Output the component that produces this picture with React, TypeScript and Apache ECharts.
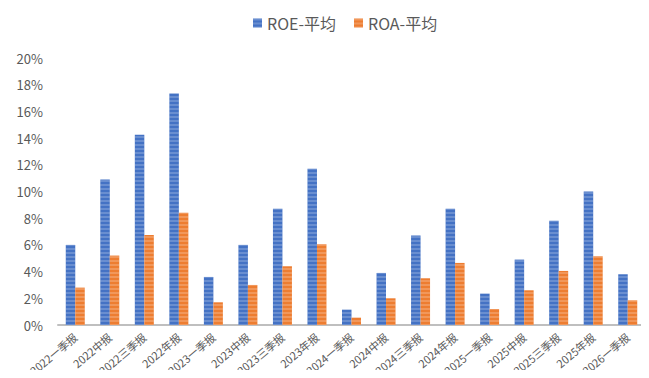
import React, { useEffect, useRef } from "react";
import * as echarts from "echarts";

const categories = [
  "2022一季报", "2022中报", "2022三季报", "2022年报",
  "2023一季报", "2023中报", "2023三季报", "2023年报",
  "2024一季报", "2024中报", "2024三季报", "2024年报",
  "2025一季报", "2025中报", "2025三季报", "2025年报",
  "2026一季报",
];
const roe = [6.0, 10.9, 14.25, 17.35, 3.6, 6.0, 8.7, 11.7, 1.15, 3.9, 6.7, 8.7, 2.35, 4.9, 7.8, 10.0, 3.8];
const roa = [2.8, 5.2, 6.75, 8.4, 1.7, 3.0, 4.4, 6.05, 0.55, 2.0, 3.5, 4.65, 1.2, 2.6, 4.05, 5.15, 1.85];
const seriesNames = ["ROE-平均", "ROA-平均"];

const FONT = "'Noto Sans CJK SC', 'Noto Sans', sans-serif";

export default function App() {
  const ref = useRef<HTMLDivElement>(null);
  useEffect(() => {
    if (!ref.current) return;
    const chart = echarts.init(ref.current, null, { renderer: "svg" });
    const decal = {
      symbol: "rect",
      symbolSize: 1,
      dashArrayX: [1, 0],
      dashArrayY: [2, 2],
      color: "rgba(255,255,255,0.2)",
    };
    chart.setOption({
      animation: false,
      legend: {
        top: 10,
        left: 248,
        itemWidth: 9,
        itemHeight: 9,
        itemGap: 18,
        icon: "rect",
        textStyle: { color: "#595959", fontSize: 16, fontFamily: FONT },
        data: seriesNames,
      },
      grid: {
        left: 58,
        right: 4,
        top: 58,
        bottom: 53,
        containLabel: false,
        outerBoundsMode: "none",
      },
      xAxis: {
        type: "category",
        data: categories,
        axisLine: { lineStyle: { color: "#BFBFBF", width: 2 } },
        axisTick: { show: false },
        axisLabel: {
          rotate: 40,
          color: "#595959",
          fontSize: 11,
          fontFamily: FONT,
          interval: 0,
          margin: 10,
        },
      },
      yAxis: {
        type: "value",
        min: 0,
        max: 20,
        interval: 2,
        splitLine: { show: false },
        axisLine: { show: false },
        axisTick: { show: false },
        axisLabel: {
          formatter: "{value}%",
          color: "#595959",
          fontSize: 13,
          fontFamily: FONT,
          margin: 15,
        },
      },
      series: [
        {
          name: seriesNames[0],
          type: "bar",
          data: roe,
          barGap: "0%",
          barCategoryGap: "45%",
          itemStyle: { color: "#4472C4", decal },
        },
        {
          name: seriesNames[1],
          type: "bar",
          data: roa,
          itemStyle: { color: "#ED7D31", decal },
        },
      ],
    });
    return () => chart.dispose();
  }, []);
  return <div ref={ref} style={{ width: 649, height: 378, margin: -8 }} />;
}
